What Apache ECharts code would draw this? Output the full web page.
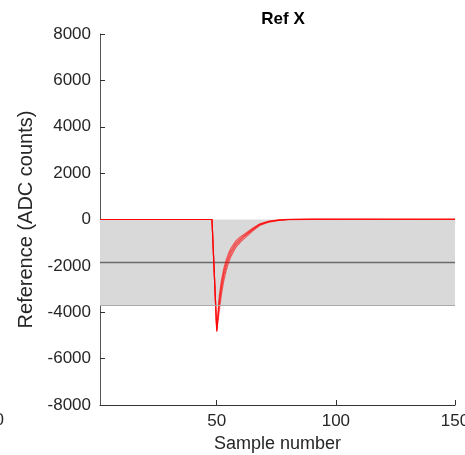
<!DOCTYPE html>
<html>
  <head>
    <title>Ref X</title>
    <meta charset="utf-8" />
    <script src="https://cdn.jsdelivr.net/npm/echarts@6/dist/echarts.min.js"></script>
    <style>
      body { margin: 0; background: #fff; }
    </style>
  </head>
  <body>
    <div id="main" style="width: 465px;height:455px;"></div>
    <script type="text/javascript">
    var samples = [1, 47, 48, 49, 50, 51, 52, 53, 54, 55, 56, 58, 60, 62, 65, 68, 72, 76, 80, 90, 150];

    // a few overlapping reference traces (ADC counts)
    var trace1 = [0, 0, 0, -2400, -4850, -3700, -2950, -2400, -2000, -1700, -1450, -1100, -880, -700, -450, -230, -90, -30, 0, 10, 10];
    var trace2 = [0, 0, 0, -2400, -4800, -3350, -2600, -2100, -1730, -1450, -1230, -930, -740, -600, -380, -190, -70, -20, 5, 15, 10];
    var trace3 = [0, 0, 0, -2400, -4800, -4000, -3200, -2620, -2180, -1850, -1580, -1200, -960, -780, -500, -260, -110, -40, -5, 5, 5];
    var trace4 = [0, 0, 0, -2400, -4750, -3550, -2800, -2250, -1870, -1580, -1340, -1020, -820, -660, -420, -210, -80, -25, 0, 10, 10];

    // band (mean +/- spread)
    var bandTop = 0;
    var bandBottom = -3700;
    var meanLevel = -1850;

    var xMin = 1, xMax = 150;
    var xTickValues = [50, 100, 150];

    function pairs(xs, ys) {
      var out = [];
      for (var i = 0; i < xs.length; i++) {
        out.push([xs[i], ys[i]]);
      }
      return out;
    }

    var myChart = echarts.init(document.getElementById('main'));

    var traces = [trace1, trace2, trace3, trace4];
    var series = [{
      name: 'mean',
      type: 'line',
      z: 1,
      symbol: 'none',
      silent: true,
      data: [[xMin, meanLevel], [xMax, meanLevel]],
      lineStyle: { color: '#6b6b6b', width: 1.5 },
      markArea: {
        silent: true,
        itemStyle: { color: '#d9d9d9' },
        data: [[{ coord: [xMin, bandTop] }, { coord: [xMax, bandBottom] }]]
      },
      markLine: {
        silent: true,
        symbol: 'none',
        label: { show: false },
        lineStyle: { color: '#ababab', width: 1, type: 'solid' },
        data: [{ yAxis: bandBottom }]
      }
    }];
    for (var t = 0; t < traces.length; t++) {
      series.push({
        name: 'trace' + (t + 1),
        type: 'line',
        z: 3,
        symbol: 'none',
        silent: true,
        data: pairs(samples, traces[t]),
        lineStyle: { color: 'rgba(255,0,0,0.6)', width: 1.2 }
      });
    }

    var textColor = '#262626';
    var option = {
      animation: false,
      title: {
        text: 'Ref X',
        left: 278,
        textAlign: 'center',
        top: 6,
        textStyle: { fontFamily: 'Liberation Sans', fontSize: 17, fontWeight: 'bold', color: '#000' }
      },
      grid: { left: 100, right: 10, top: 34, bottom: 50, outerBoundsMode: 'none', containLabel: false },
      xAxis: {
        type: 'value',
        min: xMin,
        max: xMax,
        name: 'Sample number',
        nameLocation: 'middle',
        nameGap: 30,
        nameTextStyle: { fontFamily: 'Liberation Sans', fontSize: 18, color: textColor },
        axisLine: { onZero: false, lineStyle: { color: '#333', width: 1 } },
        axisTick: { inside: true, length: 5, customValues: xTickValues, lineStyle: { color: '#333' } },
        axisLabel: { customValues: xTickValues, fontFamily: 'Liberation Sans', fontSize: 17, color: textColor, margin: 8 },
        splitLine: { show: false }
      },
      yAxis: {
        type: 'value',
        min: -8000,
        max: 8000,
        interval: 2000,
        name: 'Reference (ADC counts)',
        nameLocation: 'middle',
        nameGap: 53,
        nameTextStyle: { fontFamily: 'Liberation Sans', fontSize: 20, color: textColor },
        axisLine: { show: true, onZero: false, lineStyle: { color: '#555', width: 1 } },
        axisTick: { show: true, inside: true, length: 5, lineStyle: { color: '#333' } },
        axisLabel: {
          fontFamily: 'Liberation Sans', fontSize: 17, color: textColor, margin: 9,
          formatter: function (v) { return String(v); }
        },
        splitLine: { show: false }
      },
      graphic: [{
        type: 'text',
        right: 461,
        top: 412,
        style: { text: '150', font: '17px "Liberation Sans"', fill: textColor }
      }],
      series: series
    };

    myChart.setOption(option);
    </script>
  </body>
</html>
